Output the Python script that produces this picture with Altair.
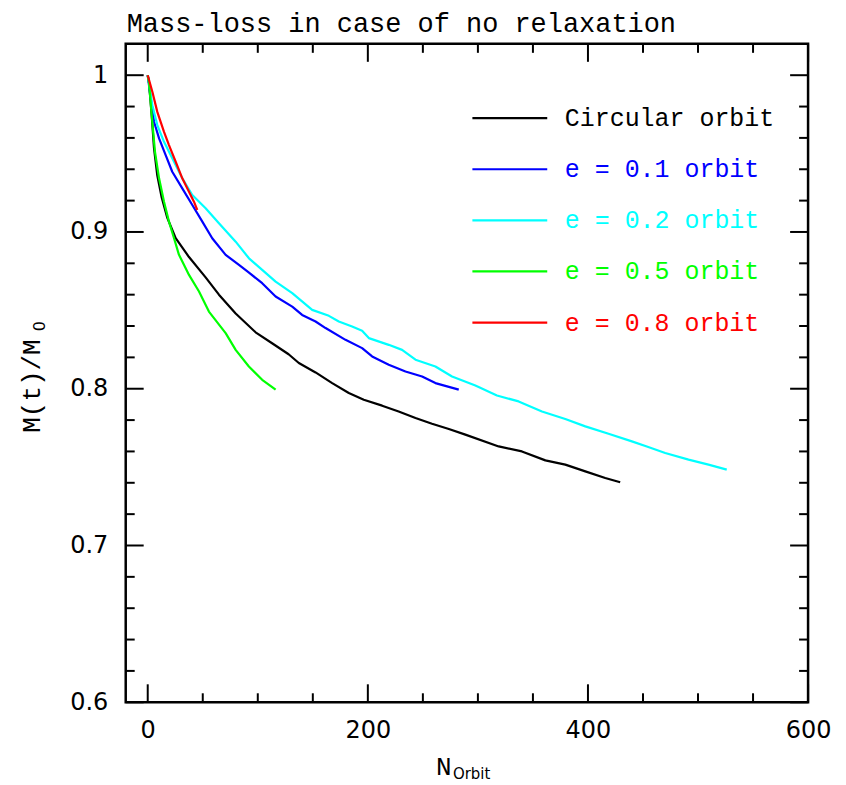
import altair as alt
import pandas as pd

# ---------------- data ----------------
series_names = ["Circular orbit", "e = 0.1 orbit", "e = 0.2 orbit", "e = 0.5 orbit", "e = 0.8 orbit"]
series_colors = ["#000000", "#0000ff", "#00ffff", "#00ff00", "#ff0000"]

circ_x = [0, 1.2, 3.6, 5.7, 8.7, 12.7, 17.8, 25.4, 37.5, 52.6, 64.7, 79.9, 98, 113, 128, 137.3,
          152.5, 167.6, 182.7, 196.3, 213, 228, 243.3, 258.3, 273.6, 288.6, 318.9, 340, 361.3,
          379.4, 397.6, 415.7, 429.3]
circ_y = [1.0, 0.995, 0.9745, 0.9535, 0.936, 0.922, 0.909, 0.896, 0.884, 0.871, 0.860, 0.848,
          0.836, 0.829, 0.822, 0.8164, 0.8104, 0.8036, 0.7973, 0.793, 0.7892, 0.7855, 0.7813,
          0.7777, 0.7743, 0.7707, 0.7632, 0.760, 0.7543, 0.7516, 0.7473, 0.7431, 0.7403]

e01_x = [0, 2.7, 5.7, 10.3, 16.3, 22.3, 31.4, 40.5, 49.6, 58.6, 70.8, 82.9, 92, 104, 116.2,
         131.3, 140.3, 152.5, 161.6, 179.7, 194.8, 203.9, 219, 234.2, 249.3, 261.4, 282.6]
e01_y = [1.0, 0.985, 0.9703, 0.9597, 0.949, 0.9384, 0.9278, 0.9172, 0.9066, 0.896, 0.8854,
         0.879, 0.8741, 0.8673, 0.8588, 0.8524, 0.8471, 0.8429, 0.8387, 0.8312, 0.8259, 0.8206,
         0.8153, 0.811, 0.8078, 0.8036, 0.7994]

e02_x = [0, 4.2, 8.7, 14.8, 22.3, 31.4, 40.5, 52.6, 64.7, 79.9, 92, 104, 116.2, 131.3, 149.4,
         164.6, 173.6, 185.7, 194.8, 200.9, 219, 231.1, 243.3, 261.4, 276.5, 297.7, 317.3, 337,
         358.2, 379.4, 397.6, 418.7, 439.9, 453.5, 470.2, 491.4, 509.5, 526.1]
e02_y = [1.0, 0.9809, 0.9682, 0.9575, 0.947, 0.9342, 0.9236, 0.9151, 0.9055, 0.8938, 0.8832,
         0.8758, 0.8683, 0.861, 0.8503, 0.8465, 0.8429, 0.8397, 0.837, 0.8323, 0.828, 0.8248,
         0.8185, 0.8142, 0.8078, 0.802, 0.7957, 0.7919, 0.7855, 0.7807, 0.776, 0.7713, 0.7664,
         0.7632, 0.759, 0.7548, 0.7516, 0.7484]

e05_x = [0, 1.2, 3.6, 6.6, 10.3, 14.8, 19.3, 23.9, 28.4, 37.5, 46.6, 55.6, 70.8, 79.9, 91.9,
         104, 116.2]
e05_y = [1.0, 0.995, 0.9745, 0.9511, 0.9342, 0.9193, 0.9066, 0.896, 0.8854, 0.8726, 0.862,
         0.8492, 0.8355, 0.8248, 0.8142, 0.8057, 0.7994]

e08_x = [0, 4.2, 8.7, 14.8, 19.3, 25.4, 31.4, 37.5, 42, 45]
e08_y = [1.0, 0.9894, 0.9766, 0.9639, 0.9554, 0.9448, 0.9342, 0.9257, 0.9193, 0.914]

x_major = [0, 200, 400, 600]
x_minor = [50, 100, 150, 250, 300, 350, 450, 500, 550]
y_major = [0.6, 0.7, 0.8, 0.9, 1.0]
y_minor = [0.62, 0.64, 0.66, 0.68, 0.72, 0.74, 0.76, 0.78, 0.82, 0.84, 0.86, 0.88,
           0.92, 0.94, 0.96, 0.98]

title_text = "Mass-loss in case of no relaxation"

# ---------------- build tables ----------------
rows = []
all_series = [(circ_x, circ_y), (e01_x, e01_y), (e02_x, e02_y), (e05_x, e05_y), (e08_x, e08_y)]
for k, (xs, ys) in enumerate(all_series):
    for i, (xv, yv) in enumerate(zip(xs, ys)):
        rows.append({"series": series_names[k], "k": k, "idx": i, "x": xv, "y": yv})
df = pd.DataFrame(rows)

W, H = 684, 660
xscale = alt.Scale(domain=[-20, 600], nice=False, zero=False)
yscale = alt.Scale(domain=[0.6, 1.02], nice=False, zero=False)
cscale = alt.Scale(domain=series_names, range=series_colors)

x_axis = alt.Axis(values=x_major, ticks=False, domain=False, grid=False, title=None,
                  labelFont="DejaVu Sans", labelFontSize=24, labelColor="black",
                  labelPadding=16, labelFlush=False, labelOverlap=False)
y_axis = alt.Axis(values=y_major, format="~g", ticks=False, domain=False, grid=False,
                  title=None, labelFont="DejaVu Sans", labelFontSize=24,
                  labelColor="black", labelPadding=18, labelOverlap=False)

lines = alt.Chart(df).mark_line(strokeWidth=2.2, strokeJoin="round").encode(
    x=alt.X("x:Q", scale=xscale, axis=x_axis),
    y=alt.Y("y:Q", scale=yscale, axis=y_axis),
    color=alt.Color("series:N", scale=cscale, legend=None),
    order=alt.Order("idx:Q"),
)

def xticks(vals, length):
    d = pd.DataFrame({"v": vals})
    b = alt.Chart(d).mark_rule(strokeWidth=2, color="black").encode(
        x=alt.X("v:Q", scale=xscale, axis=x_axis), y=alt.value(H), y2=alt.value(H - length))
    t = alt.Chart(d).mark_rule(strokeWidth=2, color="black").encode(
        x=alt.X("v:Q", scale=xscale, axis=x_axis), y=alt.value(0), y2=alt.value(length))
    return [b, t]

def yticks(vals, length):
    d = pd.DataFrame({"v": vals})
    l = alt.Chart(d).mark_rule(strokeWidth=2, color="black").encode(
        y=alt.Y("v:Q", scale=yscale, axis=y_axis), x=alt.value(0), x2=alt.value(length))
    r = alt.Chart(d).mark_rule(strokeWidth=2, color="black").encode(
        y=alt.Y("v:Q", scale=yscale, axis=y_axis), x=alt.value(W), x2=alt.value(W - length))
    return [l, r]

tick_layers = (xticks(x_major, 18) + xticks(x_minor, 9) +
               yticks(y_major, 18) + yticks(y_minor, 9))

# legend (drawn inside plot)
leg = pd.DataFrame({"label": series_names, "color": series_colors, "row": list(range(5))})
leg_base = alt.Chart(leg).transform_calculate(
    ly="0.9726 - 0.0326*datum.row", lx1="295", lx2="363", tx="379")
leg_lines = leg_base.mark_rule(strokeWidth=2.2).encode(
    x=alt.X("lx1:Q", scale=xscale, axis=x_axis), x2="lx2:Q",
    y=alt.Y("ly:Q", scale=yscale, axis=y_axis),
    color=alt.Color("color:N", scale=None))
leg_text = leg_base.mark_text(align="left", baseline="middle", font="Liberation Mono",
                              fontSize=25).encode(
    x=alt.X("tx:Q", scale=xscale, axis=x_axis),
    y=alt.Y("ly:Q", scale=yscale, axis=y_axis),
    text="label:N",
    color=alt.Color("color:N", scale=None))

# titles as text marks
def label(text, x, y, size, angle=0, align="left", baseline="alphabetic", font="Liberation Mono"):
    kw = dict(align=align, baseline=baseline, font=font, fontSize=size, color="black")
    if angle:
        kw["angle"] = angle
    return alt.Chart(pd.DataFrame({"t": [text]})).mark_text(**kw).encode(
        x=alt.value(x), y=alt.value(y), text="t:N")

title = label(title_text, 1, -12, 27)
xt_main = label("N", 311, 733, 26)
xt_sub = label("Orbit", 328, 737, 15, font="DejaVu Sans")
yt_main = label("M(t)/M", -94, 343, 26, angle=270, align="center", baseline="middle")
yt_sub = label("0", -86, 283, 16, angle=270, align="center", baseline="middle",
               font="DejaVu Sans")

chart = alt.layer(
    lines, *tick_layers, leg_lines, leg_text, title, xt_main, xt_sub, yt_main, yt_sub
).properties(
    width=W, height=H,
    padding={"left": 118, "top": 35, "right": 30, "bottom": 80},
    autosize=alt.AutoSizeParams(type="none"),
).configure(
    background="white",
    view=alt.ViewConfig(stroke="black", strokeWidth=2.5),
)

chart.save("out.html", embed_options={"renderer": "svg", "actions": False})
